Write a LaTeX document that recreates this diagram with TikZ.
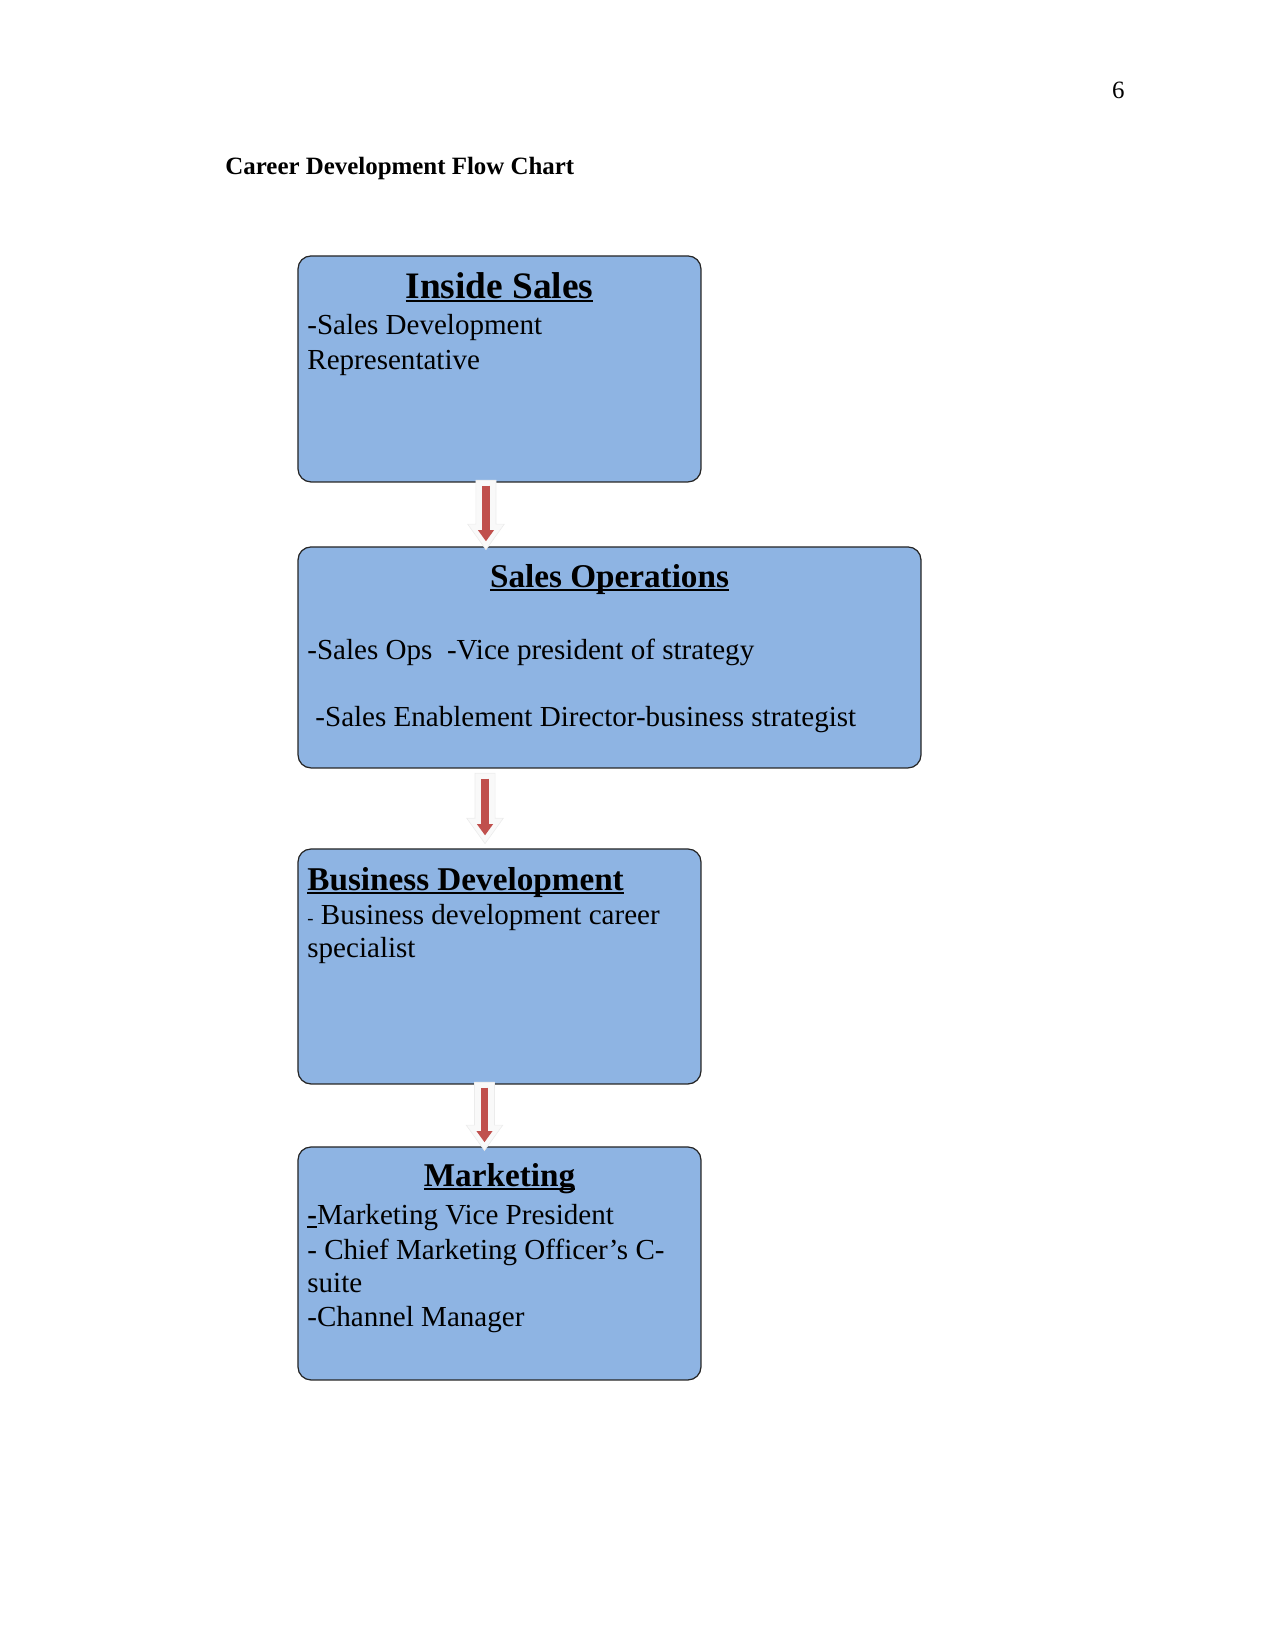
\documentclass[tikz,border=0pt]{standalone}
\usepackage{fontspec}
\setmainfont{Liberation Serif}
\usetikzlibrary{arrows.meta,calc}
\definecolor{cardblue}{RGB}{142,180,227}
\definecolor{arrowred}{RGB}{192,80,77}
\newsavebox\cardulbox
\newcommand\cardul[1]{\sbox\cardulbox{#1}\rlap{\rule[-1.6pt]{\wd\cardulbox}{0.9pt}}\usebox\cardulbox}
\tikzset{
  card/.style={draw=black!85, line width=0.6pt, fill=cardblue, rounded corners=0.22cm, inner sep=0pt},
  txt/.style={inner sep=0pt, anchor=base west, font=\fontsize{14}{16}\selectfont},
  head/.style={inner sep=0pt, anchor=base, font=\fontsize{16}{18}\selectfont\bfseries},
  flowarrow/.style={draw=arrowred, line width=0.135cm, -{Triangle[width=0.26cm,length=0.19cm]}},
  shadowarrow/.style={fill=gray!5, draw=gray!15, line width=0.3pt}
}
\begin{document}
\begin{tikzpicture}
\useasboundingbox (0,0) rectangle (21.59,27.94);

\node[inner sep=0pt, anchor=base east, font=\fontsize{12}{14}\selectfont] (pagenum) at (19.05,26.28) {6};
\node[inner sep=0pt, anchor=base west, font=\fontsize{12}{14}\selectfont\bfseries] (title) at (3.81,24.99) {Career Development Flow Chart};

% boxes
\node[card, minimum width=6.824cm, minimum height=3.827cm] (inside) at (8.458,21.692) {};
\node[card, minimum width=10.549cm, minimum height=3.742cm] (salesops) at (10.321,16.807) {};
\node[card, minimum width=6.824cm, minimum height=3.979cm] (busdev) at (8.458,11.574) {};
\node[card, minimum width=6.824cm, minimum height=3.945cm] (marketing) at (8.458,6.545) {};

% inside sales
\node[head, font=\fontsize{18}{20}\selectfont\bfseries] (insidehead) at (8.458,22.877) {\cardul{Inside Sales}};
\node[txt] (inside1) at (5.198,22.27) {-Sales Development};
\node[txt] (inside2) at (5.198,21.68) {Representative};

% sales operations
\node[head] (opshead) at (10.321,17.983) {\cardul{Sales Operations}};
\node[txt] (ops1) at (5.198,16.765) {-Sales Ops\ \ -Vice president of strategy};
\node[txt] (ops2) at (5.334,15.645) {-Sales Enablement Director-business strategist};

% business development
\node[head, anchor=base west] (devhead) at (5.198,12.86) {\cardul{Business Development}};
\node[txt] (dev1) at (5.198,12.29) {{\fontsize{9}{11}\selectfont -} Business development career};
\node[txt] (dev2) at (5.198,11.72) {specialist};

% marketing
\node[head] (markhead) at (8.458,7.841) {\cardul{Marketing}};
\node[txt] (mark1) at (5.198,7.20) {\cardul{\textbf{-}}Marketing Vice President};
\node[txt] (mark2) at (5.198,6.605) {- Chief Marketing Officer’s C-};
\node[txt] (mark3) at (5.198,6.05) {suite};
\node[txt] (mark4) at (5.198,5.47) {-Channel Manager};

% arrows
\coordinate (st1) at ($(inside.south)+(-0.229,-0.05)$);
\coordinate (tp1) at ($(st1 |- salesops.north)+(0,0.085)$);
\coordinate (st2) at ($(salesops.south)+(-2.108,-0.17)$);
\coordinate (tp2) at ($(st2 |- busdev.north)+(0,0.22)$);
\coordinate (st3) at ($(busdev.south)+(-0.254,-0.05)$);
\coordinate (tp3) at ($(st3 |- marketing.north)+(0,0.07)$);

\foreach \s/\t in {st1/tp1,st2/tp2,st3/tp3}{
  \filldraw[shadowarrow] ($(\s)+(-0.17,0.09)$) -- ($(\s)+(0.17,0.09)$) -- ($(\t)+(0.17,0.29)$) -- ($(\t)+(0.31,0.29)$)
    -- ($(\t)+(0,-0.14)$) -- ($(\t)+(-0.31,0.29)$) -- ($(\t)+(-0.17,0.29)$) -- cycle;
  \draw[flowarrow] (\s) -- (\t);
}
\end{tikzpicture}
\end{document}
